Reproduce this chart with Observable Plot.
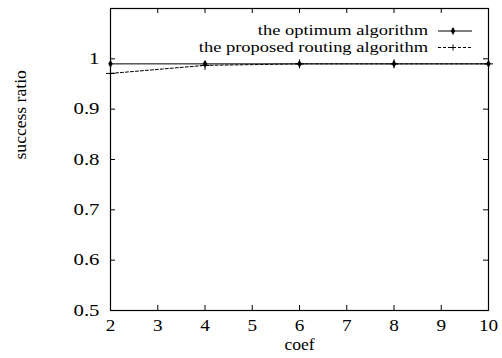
<!DOCTYPE html>
<html><head><meta charset="utf-8">
<script src="https://cdn.jsdelivr.net/npm/d3@7"></script>
<script src="https://cdn.jsdelivr.net/npm/@observablehq/plot@0.6"></script>
<style>
html,body{margin:0;padding:0;background:#fff;}
#chart{position:relative;width:502px;height:358px;}
#chart svg{position:absolute;left:0;top:0;}
#chart svg text{font-family:'Liberation Serif','Times New Roman',serif !important;}
</style></head><body><div id="chart"></div>
<script>
const coef = [2, 4, 6, 8, 10];
const optimum = [0.99, 0.99, 0.99, 0.99, 0.99];
const proposed = [0.971, 0.987, 0.99, 0.99, 0.99];
const seriesNames = ["the optimum algorithm", "the proposed routing algorithm"];
const xTicks = [2, 3, 4, 5, 6, 7, 8, 9, 10];
const yTicks = [0.5, 0.6, 0.7, 0.8, 0.9, 1];
const xLabel = "coef";
const yLabel = "success ratio";

const optData = coef.map((c, i) => ({coef: c, value: optimum[i], series: seriesNames[0]}));
const propData = coef.map((c, i) => ({coef: c, value: proposed[i], series: seriesNames[1]}));

const W = 502, H = 358, mt = 8, mb = 48, ml = 110, mr = 14;
const ph = H - mt - mb, pw = W - ml - mr;
const font = "'Liberation Serif','Times New Roman',serif";
const tl = 5;

const chart = Plot.plot({
  width: W, height: H, marginTop: mt, marginBottom: mb, marginLeft: ml, marginRight: mr,
  style: `font-family:${font};font-size:16px;background:#fff;color:#000;`,
  x: {domain: [2, 10]},
  y: {domain: [0.5, 1.1]},
  marks: [
    Plot.axisX(xTicks, {tickSize: 0, tickPadding: 9, fontSize: 16, fontFamily: font, label: null, tickFormat: d3.format("~g"), className: "xtick"}),
    Plot.axisY(yTicks, {tickSize: 0, tickPadding: 11, fontSize: 16, fontFamily: font, label: null, tickFormat: d3.format("~g"), className: "ytick"}),
    Plot.tickX(xTicks, {x: d => d, insetTop: ph - tl, stroke: "#000"}),
    Plot.tickX(xTicks, {x: d => d, insetBottom: ph - tl, stroke: "#000"}),
    Plot.tickY(yTicks, {y: d => d, insetRight: pw - tl, stroke: "#000"}),
    Plot.tickY(yTicks, {y: d => d, insetLeft: pw - tl, stroke: "#000"}),
    Plot.line(optData, {x: "coef", y: "value", stroke: "#000", strokeWidth: 1}),
    Plot.line(propData, {x: "coef", y: "value", stroke: "#000", strokeWidth: 1, strokeDasharray: "3,2"}),
    Plot.dot(optData, {x: "coef", y: "value", symbol: "diamond", r: 2.4, fill: "#000", stroke: "none"}),
    Plot.dot(propData, {x: "coef", y: "value", symbol: "plus", r: 3, stroke: "#000", strokeWidth: 1}),
    Plot.frame({stroke: "#000", strokeWidth: 1.2}),
    Plot.text([yLabel], {frameAnchor: "left", dx: -90, rotate: -90, fontSize: 16, fontFamily: font, fill: "#000", className: "ylabel"}),
    Plot.text([xLabel], {frameAnchor: "bottom", dy: 39, fontSize: 16, fontFamily: font, fill: "#000", className: "xlabel"})
  ]
});
document.getElementById("chart").appendChild(chart);

// horizontally widen text glyphs like the scanned original
function stretch(sel, s) {
  d3.select(chart).selectAll(sel).each(function() {
    const t = d3.select(this);
    let tr = t.attr("transform");
    if (!tr) {
      const x = +(t.attr("x") || 0), y = +(t.attr("y") || 0);
      t.attr("x", null).attr("y", null);
      tr = `translate(${x},${y})`;
    }
    t.attr("transform", `${tr} scale(${s},1)`);
  });
}
stretch(".ytick text", 1.3);
stretch(".xtick text", 1.2);
stretch(".xlabel text", 1.1);
stretch(".ylabel text", 1.1);

// legend overlay (inside plot, top-right)
const leg = d3.select("#chart").append("svg")
  .attr("width", W).attr("height", H)
  .style("pointer-events", "none");
const rows = [
  {name: seriesNames[0], dash: null, fill: true, y: 31},
  {name: seriesNames[1], dash: "3,2", fill: false, y: 47.5}
];
const textRight = 428, s = 1.32;
rows.forEach(r => {
  leg.append("text")
    .attr("transform", `translate(${textRight},${r.y}) scale(${s},1)`)
    .attr("text-anchor", "end")
    .attr("dy", "0.32em")
    .style("font-family", font).style("font-size", "14px")
    .text(r.name);
  leg.append("line")
    .attr("x1", 438).attr("x2", 472).attr("y1", r.y).attr("y2", r.y)
    .attr("stroke", "#000").attr("stroke-width", 1)
    .attr("stroke-dasharray", r.dash);
  if (r.fill) {
    leg.append("path").attr("transform", `translate(453,${r.y})`)
      .attr("d", d3.symbol(d3.symbolDiamond, 18)()).attr("fill", "#000");
  } else {
    leg.append("path").attr("transform", `translate(453,${r.y})`)
      .attr("d", "M-3,0H3M0,-3V3").attr("stroke", "#000").attr("fill", "none");
  }
});
</script></body></html>
